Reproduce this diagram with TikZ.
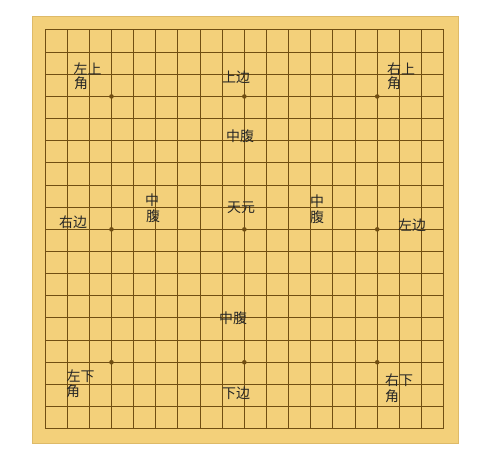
\documentclass[tikz,border=0pt]{standalone}
\usepackage{fontspec}
\newfontfamily\cjk{Noto Sans CJK SC}
\usepackage{tikz}

\definecolor{wood}{RGB}{243,208,122}
\definecolor{woodedge}{RGB}{222,186,104}
\definecolor{gridline}{RGB}{112,78,18}

\tikzset{
	lbl/.style = {inner sep = 0pt, font = \cjk\fontsize{14}{16}\selectfont, text = black!85}
}

\begin{document}
\begin{tikzpicture}[x = 1bp, y = -1bp]
		\useasboundingbox (0, 0) rectangle (500, 451);
		\fill[white] (0, 0) rectangle (500, 451);
		\draw[fill = wood, draw = woodedge, line width = 1bp] (32, 17) rectangle (458, 443);
		\foreach \i in {0,...,18}{
			\draw[gridline, line width = 1bp] (45 + 22.15*\i, 30) -- (45 + 22.15*\i, 428.7);
			\draw[gridline, line width = 1bp] (45, 30 + 22.15*\i) -- (443.7, 30 + 22.15*\i);
		}
		\foreach \a in {3, 9, 15}
			\foreach \b in {3, 9, 15}
				\fill[gridline] (45 + 22.15*\a, 30 + 22.15*\b) circle[radius = 2.3bp];
			\node[lbl] (tlA) at (87.5, 69.5) {左上};
			\node[lbl] (tlB) at (81, 83.5) {角};
			\node[lbl] (top) at (236, 77) {上边};
			\node[lbl] (trA) at (401, 69) {右上};
			\node[lbl] (trB) at (394, 83) {角};
			\node[lbl] (midN) at (240, 136) {中腹};
			\node[lbl] (midWA) at (152, 200) {中};
			\node[lbl] (midWB) at (153, 216) {腹};
			\node[lbl] (left) at (73, 222) {右边};
			\node[lbl] (tengen) at (241, 208) {天元};
			\node[lbl] (midEA) at (317, 201) {中};
			\node[lbl] (midEB) at (317, 217) {腹};
			\node[lbl] (right) at (412, 225) {左边};
			\node[lbl] (midS) at (233, 318) {中腹};
			\node[lbl] (blA) at (80.5, 376.5) {左下};
			\node[lbl] (blB) at (73, 391) {角};
			\node[lbl] (bottom) at (236, 393) {下边};
			\node[lbl] (brA) at (399, 380.5) {右下};
			\node[lbl] (brB) at (392, 396) {角};
	\end{tikzpicture}
\end{document}
